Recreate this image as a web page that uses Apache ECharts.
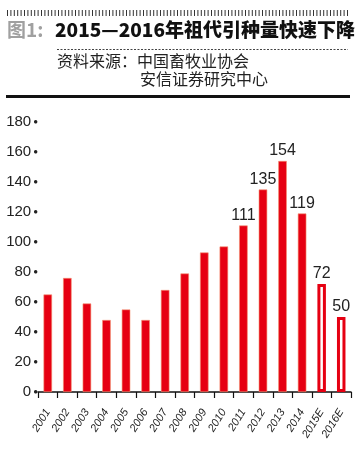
<!DOCTYPE html>
<html><head><meta charset="utf-8">
<script src="https://cdn.jsdelivr.net/npm/echarts@6/dist/echarts.min.js"></script>
<style>html,body{margin:0;padding:0;background:#fff}#c{width:359px;height:449px}</style>
</head><body><div id="c"></div>
<script>
var categories = ['2001','2002','2003','2004','2005','2006','2007','2008','2009','2010','2011','2012','2013','2014','2015E','2016E'];
var values = [65, 76, 59, 48, 55, 48, 68, 79, 93, 97, 111, 135, 154, 119, 72, 50];
var labeledFrom = 10; // labels shown from 2011 onward
var estimated = ['2015E', '2016E'];
var yTicks = [0, 20, 40, 60, 80, 100, 120, 140, 160, 180];
var titleText = '2015—2016年祖代引种量快速下降';
var figText = '图1:';
var source1 = '资料来源：中国畜牧业协会';
var source2 = '安信证券研究中心';

var RED = '#e60012';
var data = values.map(function (v, i) {
  var est = estimated.indexOf(categories[i]) >= 0;
  return {
    value: v,
    itemStyle: est ? { color: '#fff', borderColor: RED, borderWidth: 3 } :
                     { color: RED, borderColor: '#f39070', borderWidth: 0.6 },
    label: { show: i >= labeledFrom }
  };
});

var graphics = [
  { type: 'line', id: 'comb', shape: { x1: 7, y1: 13, x2: 350, y2: 13 },
    style: { stroke: '#333', lineWidth: 6, lineDash: [1, 2.4], lineCap: 'butt' } },
  { type: 'text', id: 'fig', left: 7, top: 20, style: { text: figText, font: 'bold 19px "Noto Sans CJK SC"', fill: '#a0a0a0' } },
  { type: 'text', id: 'ttl', left: 55, top: 20, style: { text: titleText, font: '900 19px "Noto Sans CJK SC"', fill: '#111' } },
  { type: 'line', id: 'dash', shape: { x1: 57, y1: 49.5, x2: 348, y2: 49.5 }, style: { stroke: '#444', lineWidth: 1, lineDash: [2, 1.5] } },
  { type: 'text', id: 's1', left: 57, top: 53, style: { text: source1, font: '16px "Noto Sans CJK SC"', fill: '#222' } },
  { type: 'text', id: 's2', left: 140, top: 71, style: { text: source2, font: '16px "Noto Sans CJK SC"', fill: '#222' } },
  { type: 'rect', id: 'hr', shape: { x: 6, y: 95, width: 344, height: 3 }, style: { fill: '#111' } }
];

var chart = echarts.init(document.getElementById('c'), null, { renderer: 'canvas' });
chart.setOption({
  animation: false,
  backgroundColor: '#fff',
  grid: { left: 38, right: 8, top: 122, bottom: 57, containLabel: false },
  xAxis: {
    type: 'category',
    data: categories,
    axisLine: { lineStyle: { color: '#111', width: 1.5 } },
    axisTick: { show: true, length: 6, lineStyle: { color: '#111', width: 1.2 } },
    axisLabel: { rotate: 58, margin: 18, fontSize: 11, fontStyle: 'italic', color: '#222',
                 fontFamily: 'Liberation Sans', interval: 0 }
  },
  yAxis: {
    type: 'value', min: yTicks[0], max: yTicks[yTicks.length - 1], interval: 20,
    axisLine: { show: false }, axisTick: { show: false }, splitLine: { show: false },
    axisLabel: {
      margin: 0,
      formatter: function (v) { return '{v|' + v + '}{d|●}'; },
      rich: {
        v: { fontSize: 15, color: '#222', fontFamily: 'Liberation Sans' },
        d: { fontSize: 8, color: '#222', padding: [0, 0, 0, 2] }
      }
    }
  },
  series: [{
    type: 'bar',
    data: data,
    barWidth: 8.5,
    label: { position: 'top', distance: 2, fontSize: 16, color: '#222', fontFamily: 'Liberation Sans' }
  }],
  graphic: graphics
});
</script></body></html>
